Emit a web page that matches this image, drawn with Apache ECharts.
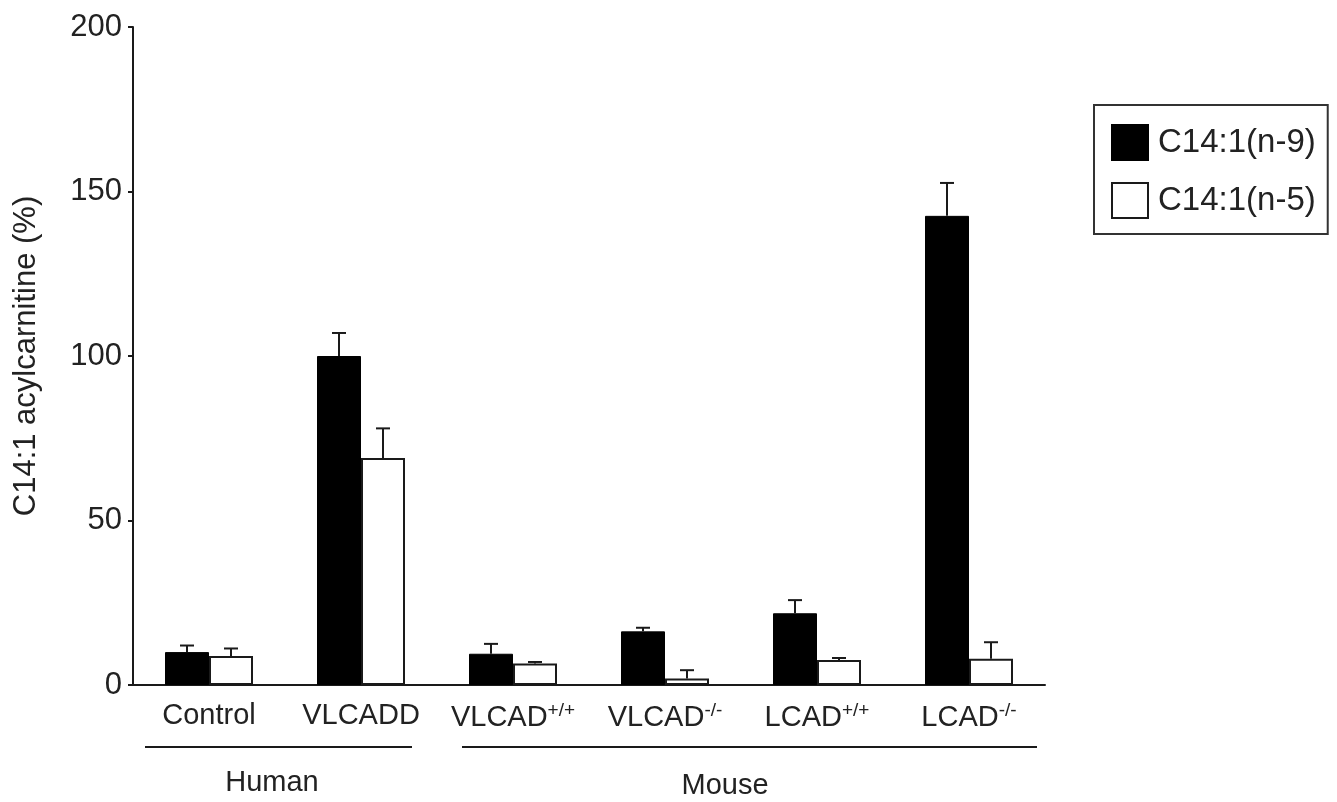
<!DOCTYPE html>
<html><head><meta charset="utf-8">
<script src="https://cdn.jsdelivr.net/npm/echarts@6/dist/echarts.min.js"></script>
<style>html,body{margin:0;padding:0;background:#fff}#c{width:1337px;height:802px}</style>
</head><body><div id="c"></div>
<script>
const categories = ['Control', 'VLCADD', 'VLCAD+/+', 'VLCAD-/-', 'LCAD+/+', 'LCAD-/-'];
const seriesNames = ['C14:1(n-9)', 'C14:1(n-5)'];
const n9 = [10, 100, 9.5, 16.3, 21.8, 142.6];
const n9Err = [2, 7, 3, 1.1, 4, 10];
const n5 = [8.8, 69, 6.5, 2, 7.6, 8];
const n5Err = [2.3, 9, 0.5, 2.5, 0.6, 5];
const yTicks = [0, 50, 100, 150, 200];

const FONT = "'Liberation Sans', Arial, sans-serif";
const INK = '#1a1a1a';
const BAR_W = 44;

function errRender(offset) {
  return function (params, api) {
    const x = api.value(0), v = api.value(1), e = api.value(2);
    const p0 = api.coord([x, v]);
    const p1 = api.coord([x, v + e]);
    const cx = p0[0] + offset;
    return {
      type: 'group',
      children: [
        { type: 'line', shape: { x1: cx, y1: p0[1], x2: cx, y2: p1[1] }, style: { stroke: INK, lineWidth: 2 } },
        { type: 'line', shape: { x1: cx - 7, y1: p1[1], x2: cx + 7, y2: p1[1] }, style: { stroke: INK, lineWidth: 2 } }
      ]
    };
  };
}

const chart = echarts.init(document.getElementById('c'));
chart.setOption({
  animation: false,
  backgroundColor: '#fff',
  textStyle: { fontFamily: FONT },
  grid: { left: 133, right: 292, top: 27, bottom: 117 },
  legend: {
    data: seriesNames,
    orient: 'vertical',
    left: 1094, top: 105,
    borderColor: '#333', borderWidth: 2,
    padding: [19, 12, 15, 17],
    itemWidth: 36, itemHeight: 35, itemGap: 21,
    icon: 'rect',
    textStyle: { fontSize: 33, color: '#222', fontFamily: FONT, padding: [0, 0, 0, 5] }
  },
  xAxis: {
    type: 'category',
    data: categories,
    axisLine: { lineStyle: { color: INK, width: 2 } },
    axisTick: { show: false },
    axisLabel: {
      interval: 0, hideOverlap: false,
      fontSize: 29, color: '#222', margin: 16, fontFamily: FONT,
      formatter: function (v) {
        const m = v.match(/^(.*?)([+\-]\/[+\-])$/);
        return m ? m[1] + '{sup|' + m[2] + '}' : v;
      },
      rich: { sup: { fontSize: 19, color: '#222', fontFamily: FONT, padding: [0, 0, 14, 0] } }
    }
  },
  yAxis: {
    type: 'value', min: yTicks[0], max: yTicks[yTicks.length - 1], interval: 50,
    name: 'C14:1 acylcarnitine (%)', nameLocation: 'middle', nameGap: 91,
    nameTextStyle: { fontSize: 31, color: '#222', fontFamily: FONT },
    axisLine: { show: true, lineStyle: { color: INK, width: 2 } },
    axisTick: { show: true, length: 5, lineStyle: { color: INK, width: 2 } },
    splitLine: { show: false },
    axisLabel: { fontSize: 31, color: '#222', margin: 11, fontFamily: FONT }
  },
  series: [
    { name: seriesNames[0], type: 'bar', data: n9, barWidth: BAR_W, barGap: '0%',
      itemStyle: { color: '#000', borderColor: '#000', borderWidth: 1 } },
    { name: seriesNames[1], type: 'bar', data: n5, barWidth: BAR_W, barGap: '0%',
      itemStyle: { color: '#fff', borderColor: INK, borderWidth: 2 } },
    { name: 'err9', type: 'custom', renderItem: errRender(-BAR_W / 2), z: 5,
      encode: { x: 0, y: 1 }, data: categories.map((c, i) => [i, n9[i], n9Err[i]]) },
    { name: 'err5', type: 'custom', renderItem: errRender(BAR_W / 2), z: 5,
      encode: { x: 0, y: 1 }, data: categories.map((c, i) => [i, n5[i], n5Err[i]]) }
  ],
  graphic: [
    { type: 'line', shape: { x1: 145, y1: 747, x2: 412, y2: 747 }, style: { stroke: INK, lineWidth: 2 } },
    { type: 'line', shape: { x1: 462, y1: 747, x2: 1037, y2: 747 }, style: { stroke: INK, lineWidth: 2 } },
    { type: 'text', x: 272, y: 783, style: { text: 'Human', fontSize: 29, fill: '#222', fontFamily: FONT, textAlign: 'center', textVerticalAlign: 'middle' } },
    { type: 'text', x: 725, y: 786, style: { text: 'Mouse', fontSize: 29, fill: '#222', fontFamily: FONT, textAlign: 'center', textVerticalAlign: 'middle' } }
  ]
});
</script>
</body></html>
